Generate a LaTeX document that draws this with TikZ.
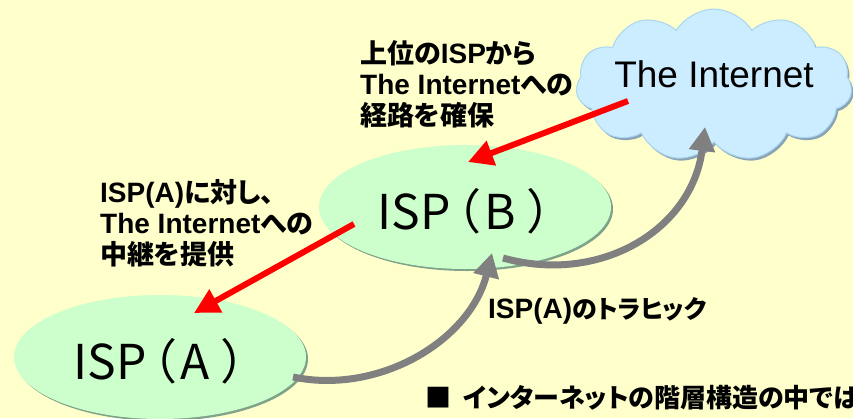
\documentclass[tikz,border=0pt]{standalone}
\usepackage{fontspec}
\setmainfont{Liberation Sans}
\newfontfamily\jpfont{Noto Sans CJK JP}[RawFeature=+palt]
\newfontfamily\lsfont{Liberation Sans}
\usetikzlibrary{shapes.symbols,shapes.geometric,arrows.meta,shadows}

\definecolor{bg}{HTML}{FFFFCC}
\definecolor{ispfill}{HTML}{CCFFCC}
\definecolor{ispshade}{HTML}{7FA38A}
\definecolor{cloudfill}{HTML}{CCECFF}
\definecolor{cloudedge}{HTML}{A9D6F0}
\definecolor{cloudshade}{HTML}{8AA3B5}
\definecolor{flow}{HTML}{808080}

% Latin words inside the Japanese notes
\newcommand\en[1]{{\lsfont\bfseries\fontsize{28}{31}\selectfont #1}}
% network name set with open brackets
\newcommand\ispname[1]{ISP\kern5pt（\kern5pt #1\kern12pt）}

\begin{document}
\begin{tikzpicture}[x=1pt,y=-1pt,
  isp/.style={ellipse, fill=ispfill, inner sep=0pt,
    minimum width=292pt, minimum height=124pt,
    text height=48pt, text depth=3pt,
    drop shadow={shadow xshift=2pt, shadow yshift=-2pt, fill=ispshade, opacity=1},
    font=\jpfont\fontsize{48}{52}\selectfont},
  net/.style={cloud, cloud puffs=11, cloud puff arc=118, aspect=1.75,
    minimum width=276pt, minimum height=152pt, inner sep=0pt,
    fill=cloudfill, draw=cloudedge, line width=1pt,
    drop shadow={shadow xshift=2pt, shadow yshift=-2.5pt, fill=cloudshade, opacity=1}},
  note/.style={inner sep=0pt, align=left,
    font=\jpfont\bfseries\fontsize{27}{31}\selectfont},
  push/.style={draw=red, line width=6pt,
    -{Triangle[length=25pt, width=25pt]}},
  traffic/.style={draw=flow, line width=7pt,
    -{Triangle[length=24pt, width=25pt]}},
]
% page
\fill[bg] (0,0) rectangle (853,418);
\useasboundingbox (0,0) rectangle (853,418);

% the three networks
\node[net] (inet) at (714,85) {};
\node[font=\lsfont\fontsize{37}{40}\selectfont] (inetlabel)
  at ([yshift=11pt]inet.center) {The Internet};
\node[isp] (ispB) at (465,207) {\ispname{B}};
\node[isp] (ispA) at (160,357) {\ispname{A}};

% notes
\node[note, anchor=north west] (noteB) at (360,40)
  {上位の\en{ISP}から\\\en{The Internet}への\\経路を確保};
\node[note, anchor=north west] (noteA) at (100,179)
  {\en{ISP(A)}に対し、\\\en{The Internet}への\\中継を提供};
\node[note, anchor=base west, font=\jpfont\bfseries\fontsize{25}{31}\selectfont]
  (noteT) at (488,318) {\en{ISP(A)}のトラヒック};
\node[note, anchor=base west, font=\jpfont\bfseries\fontsize{26}{31}\selectfont]
  (bullet) at (425,407) {■\hspace{12pt}インターネットの階層構造の中では};

% end points of the connectors
\coordinate (inetOut) at (628,101);
\coordinate (bIn)     at (468,162);
\coordinate (bOut)    at (354,224);
\coordinate (aIn)     at (194,313);
\coordinate (aUp)     at (293,377);
\coordinate (bUpIn)   at (492,253);
\coordinate (bUp)     at (503,258);
\coordinate (inetIn)  at (705,127);

% routes handed down
\draw[push] (inetOut) -- (bIn);
\draw[push] (bOut) -- (aIn);

% traffic carried up
\draw[traffic] (aUp) .. controls (380,395) and (470,340) .. (bUpIn);
\draw[traffic] (bUp) .. controls (600,285) and (692,230) .. (inetIn);
\end{tikzpicture}
\end{document}
